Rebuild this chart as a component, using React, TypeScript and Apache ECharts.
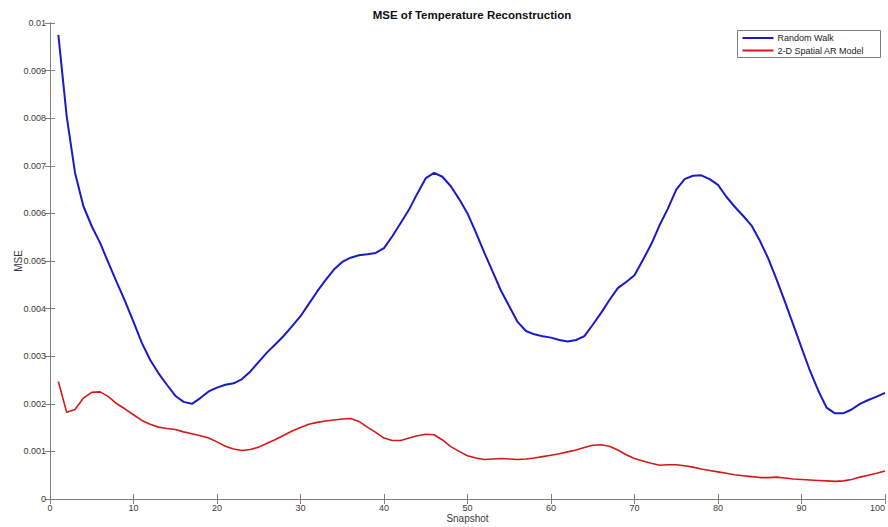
import React, { useEffect, useRef } from "react";
import * as echarts from "echarts";

const snapshots: number[] = Array.from({ length: 100 }, (_, i) => i + 1);

const randomWalk: number[] = [
  0.00975, 0.00804, 0.00685, 0.00615, 0.00573, 0.00538, 0.00496, 0.00455, 0.00415, 0.00372,
  0.00328, 0.00292, 0.00264, 0.0024, 0.00217, 0.00204, 0.002, 0.00212, 0.00226, 0.00234,
  0.0024, 0.00243, 0.00252, 0.00268, 0.00288, 0.00308, 0.00325, 0.00343, 0.00363, 0.00384,
  0.0041, 0.00436, 0.0046, 0.00482, 0.00498, 0.00507, 0.00512, 0.00514, 0.00517, 0.00527,
  0.00552, 0.0058, 0.00608, 0.00642, 0.00674, 0.00685, 0.00677, 0.00657, 0.0063, 0.006,
  0.0056, 0.00518, 0.00478, 0.00438, 0.00405, 0.00372, 0.00353, 0.00346, 0.00342, 0.00339,
  0.00334, 0.00331, 0.00334, 0.00342, 0.00366, 0.00391, 0.00418, 0.00443, 0.00456, 0.0047,
  0.00502, 0.00535, 0.00575, 0.0061, 0.0065, 0.00672, 0.00679, 0.0068, 0.00672, 0.0066,
  0.00635, 0.00614, 0.00595, 0.00575, 0.00543, 0.00506, 0.00462, 0.00415, 0.00367, 0.00318,
  0.0027, 0.00228, 0.00192, 0.0018, 0.0018, 0.00188, 0.002, 0.00208, 0.00215, 0.00223,
];

const spatialAR: number[] = [
  0.00247, 0.00182, 0.00188, 0.00212, 0.00224, 0.00225, 0.00215, 0.002, 0.00189, 0.00177,
  0.00165, 0.00157, 0.00151, 0.00148, 0.00146, 0.00141, 0.00137, 0.00133, 0.00128, 0.0012,
  0.00111, 0.00105, 0.00102, 0.00104, 0.00109, 0.00117, 0.00125, 0.00134, 0.00143, 0.0015,
  0.00157, 0.00161, 0.00164, 0.00166, 0.00168, 0.00169, 0.00163, 0.00151, 0.0014, 0.00128,
  0.00123, 0.00123, 0.00128, 0.00133, 0.00136, 0.00135, 0.00124, 0.0011, 0.001, 0.00091,
  0.00086, 0.00083, 0.00084, 0.00085, 0.00084, 0.00083, 0.00084, 0.00086, 0.00089, 0.00092,
  0.00095, 0.00099, 0.00103, 0.00108, 0.00113, 0.00114, 0.00111, 0.00103, 0.00093, 0.00085,
  0.0008, 0.00075, 0.00071, 0.00072, 0.00072, 0.0007, 0.00067, 0.00063, 0.0006, 0.00057,
  0.00054, 0.00051, 0.00049, 0.00047, 0.00045, 0.00045, 0.00046, 0.00044, 0.00042, 0.00041,
  0.0004, 0.00039, 0.00038, 0.00037, 0.00038, 0.00041, 0.00046, 0.0005, 0.00054, 0.00059,
];

const seriesNames: string[] = ["Random Walk", "2-D Spatial AR Model"];
const seriesColors: string[] = ["#1a1ac6", "#d81818"];
const titleText = "MSE of Temperature Reconstruction";
const xName = "Snapshot";
const yName = "MSE";

const FONT = "'Liberation Sans', Arial, sans-serif";
const AXIS_GREY = "#7f7f7f";
const LABEL_COLOR = "#3a3a3a";

export default function App() {
  const ref = useRef<HTMLDivElement>(null);

  useEffect(() => {
    if (!ref.current) return;
    const chart = echarts.init(ref.current, undefined, { renderer: "svg" });

    const axisLine = { show: true, lineStyle: { color: AXIS_GREY, width: 1 } };
    const axisTick = { show: true, inside: true, length: 5, lineStyle: { color: AXIS_GREY } };

    const fmtY = (v: number) => {
      if (Math.abs(v) < 1e-12) return "0";
      return String(parseFloat(v.toFixed(4)));
    };

    chart.setOption({
      animation: false,
      backgroundColor: "#ffffff",
      title: {
        text: titleText,
        left: 467,
        textAlign: "center",
        top: 4,
        textStyle: { fontFamily: FONT, fontSize: 11.5, fontWeight: "bold", color: "#111" },
      },
      grid: {
        left: 50,
        right: 3,
        top: 23,
        bottom: 28,
        containLabel: false,
        outerBoundsMode: "none",
      },
      xAxis: [
        {
          type: "value",
          min: 0,
          max: 100,
          interval: 10,
          position: "bottom",
          name: xName,
          nameLocation: "middle",
          nameGap: 14,
          nameMoveOverlap: false,
          nameTextStyle: { fontFamily: FONT, fontSize: 10, color: LABEL_COLOR },
          axisLine,
          axisTick,
          splitLine: { show: false },
          axisLabel: {
            fontFamily: FONT,
            fontSize: 9,
            color: LABEL_COLOR,
            margin: 4,
            hideOverlap: false,
            alignMaxLabel: "right",
          },
        },
        {
          type: "value",
          min: 0,
          max: 100,
          interval: 10,
          position: "top",
          axisLine,
          axisTick,
          splitLine: { show: false },
          axisLabel: { show: false },
        },
      ],
      yAxis: [
        {
          type: "value",
          min: 0,
          max: 0.01,
          interval: 0.001,
          position: "left",
          name: yName,
          nameLocation: "middle",
          nameGap: 27,
          nameMoveOverlap: false,
          nameRotate: 90,
          nameTextStyle: { fontFamily: FONT, fontSize: 10, color: LABEL_COLOR },
          axisLine,
          axisTick,
          splitLine: { show: false },
          axisLabel: { fontFamily: FONT, fontSize: 9, color: LABEL_COLOR, margin: 4, formatter: fmtY },
        },
        {
          type: "value",
          min: 0,
          max: 0.01,
          interval: 0.001,
          position: "right",
          axisLine,
          axisTick,
          splitLine: { show: false },
          axisLabel: { show: false },
        },
      ],
      series: [
        {
          name: seriesNames[0],
          type: "line",
          xAxisIndex: 0,
          yAxisIndex: 0,
          data: snapshots.map((s, i) => [s, randomWalk[i]]),
          showSymbol: false,
          lineStyle: { color: seriesColors[0], width: 2 },
          itemStyle: { color: seriesColors[0] },
        },
        {
          name: seriesNames[1],
          type: "line",
          xAxisIndex: 0,
          yAxisIndex: 0,
          data: snapshots.map((s, i) => [s, spatialAR[i]]),
          showSymbol: false,
          lineStyle: { color: seriesColors[1], width: 1.6 },
          itemStyle: { color: seriesColors[1] },
        },
      ],
      graphic: [
        {
          type: "group",
          left: 737,
          top: 30,
          children: [
            {
              type: "rect",
              shape: { x: 0, y: 0, width: 143, height: 27 },
              style: { fill: "#ffffff", stroke: AXIS_GREY, lineWidth: 1 },
            },
            {
              type: "line",
              shape: { x1: 5, y1: 7.5, x2: 36, y2: 7.5 },
              style: { stroke: seriesColors[0], lineWidth: 2 },
            },
            {
              type: "text",
              x: 40,
              y: 7.5,
              style: {
                text: seriesNames[0],
                fontFamily: FONT,
                fontSize: 9,
                fill: "#222",
                verticalAlign: "middle",
              },
            },
            {
              type: "line",
              shape: { x1: 5, y1: 20, x2: 36, y2: 20 },
              style: { stroke: seriesColors[1], lineWidth: 2 },
            },
            {
              type: "text",
              x: 40,
              y: 20,
              style: {
                text: seriesNames[1],
                fontFamily: FONT,
                fontSize: 9,
                fill: "#222",
                verticalAlign: "middle",
              },
            },
          ],
        },
      ],
    });

    return () => {
      chart.dispose();
    };
  }, []);

  return (
    <div
      ref={ref}
      style={{ position: "absolute", left: 0, top: 0, width: 888, height: 527, background: "#fff" }}
    />
  );
}
